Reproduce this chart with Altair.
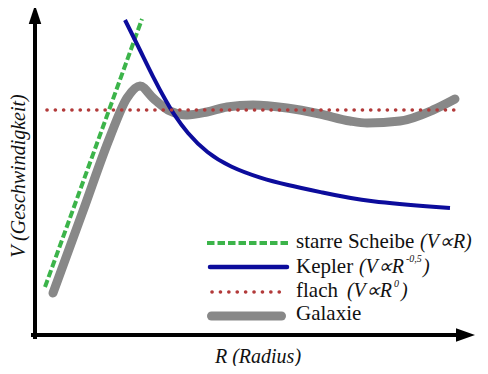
import altair as alt
import pandas as pd

# (R = radius, V = velocity; arbitrary units)
disk_R = [10, 107]
disk_V = [48, 316]

kepler_R = [90, 105, 118, 132, 138, 152, 172, 195, 225, 252, 285, 332, 415]
kepler_V = [315, 285, 258, 232, 222, 202, 182, 168, 157, 150, 143, 133, 127]

flat_R = [12, 425]
flat_V = [225, 225]

galaxy_R = [18, 48, 75, 92, 105, 118, 135, 152, 172, 192, 218, 252, 285, 315, 332, 365, 398, 420]
galaxy_V = [42, 124, 198, 237, 249, 237, 224, 220, 223, 228, 230, 227, 221, 214, 212, 214, 225, 236]

legend_names = ["starre Scheibe", "Kepler", "flach", "Galaxie"]
legend_italic = ["(V\u221dR)", "(V\u221dR", "(V\u221dR"]
legend_sup = ["-0,5", "0"]

XDOM = [-27, 445]
YDOM = [-31, 327]

def X():
    return alt.X("R:Q", scale=alt.Scale(domain=XDOM), axis=None)

def Y():
    return alt.Y("V:Q", scale=alt.Scale(domain=YDOM), axis=None)

def df(R, V):
    return pd.DataFrame({"R": R, "V": V, "i": list(range(len(R)))})

def enc(ch):
    return ch.encode(x=X(), y=Y(), order="i:Q")

GREEN = "#3cb44a"
BLUE = "#0c0c9c"
RED = "#b23a3a"
GRAY = "#888888"
INK = "#111111"
FONT = "'Liberation Serif', 'Times New Roman', Times, serif"

galaxy = enc(alt.Chart(df(galaxy_R, galaxy_V)).mark_line(
    color=GRAY, strokeWidth=9, strokeCap="round", interpolate="monotone"))
disk = enc(alt.Chart(df(disk_R, disk_V)).mark_line(
    color=GREEN, strokeWidth=4, strokeDash=[7.5, 3]))
kepler = enc(alt.Chart(df(kepler_R, kepler_V)).mark_line(
    color=BLUE, strokeWidth=4, interpolate="basis"))
flat = enc(alt.Chart(df(flat_R, flat_V)).mark_line(
    color=RED, strokeWidth=3.6, strokeCap="round", strokeDash=[0.1, 8.2]))

# legend symbols
lg = enc(alt.Chart(df([176.5, 246.5], [19, 19])).mark_line(color=GRAY, strokeWidth=9, strokeCap="round"))
lgr = enc(alt.Chart(df([172, 253], [92, 92])).mark_line(color=GREEN, strokeWidth=4, strokeDash=[7.5, 3]))
lb = enc(alt.Chart(df([175, 252], [68, 68])).mark_line(color=BLUE, strokeWidth=4.5, strokeCap="round"))
lr = enc(alt.Chart(df([177, 252], [43, 43])).mark_line(color=RED, strokeWidth=3.6, strokeCap="round", strokeDash=[0.1, 8.3]))

# legend texts
names = pd.DataFrame({"R": [261] * 4, "V": [87, 62, 38, 15], "t": legend_names})
ital_l = pd.DataFrame({"R": [385], "V": [87], "t": legend_italic[:1]})
ital_r = pd.DataFrame({"R": [369, 357], "V": [62, 38], "t": legend_italic[1:]})
sups = pd.DataFrame({"R": [371, 359], "V": [73, 48], "t": legend_sup})
close = pd.DataFrame({"R": [388, 366], "V": [62, 38], "t": [")", ")"]})

def txt(d, **kw):
    base = dict(font=FONT, color=INK, align="left", baseline="alphabetic")
    base.update(kw)
    return alt.Chart(d).mark_text(**base).encode(x=X(), y=Y(), text="t:N")

t_names = txt(names, fontSize=21)
t_ital_l = txt(ital_l, fontSize=20, fontStyle="italic")
t_ital_r = txt(ital_r, fontSize=20, fontStyle="italic", align="right")
t_sup = txt(sups, fontSize=10, fontStyle="italic")
t_close = txt(close, fontSize=20, fontStyle="italic")

# axes with arrows
axis_y = enc(alt.Chart(df([0, 0], [-2, 312])).mark_line(color="black", strokeWidth=4, strokeCap="square"))
axis_x = enc(alt.Chart(df([-2, 422], [0, 0])).mark_line(color="black", strokeWidth=4, strokeCap="square"))
arrow_up = alt.Chart(pd.DataFrame({"R": [0], "V": [320.5]})).mark_point(
    shape="M0,-1L0.66,1L-0.66,1Z", size=361, filled=True, color="black", opacity=1).encode(x=X(), y=Y())
arrow_right = alt.Chart(pd.DataFrame({"R": [430.5], "V": [0]})).mark_point(
    shape="M1,0L-1,-0.7L-1,0.7Z", size=361, filled=True, color="black", opacity=1).encode(x=X(), y=Y())

ytitle = alt.Chart(pd.DataFrame({"R": [-16], "V": [159], "t": ["V (Geschwindigkeit)"]})).mark_text(
    font=FONT, fontSize=20, fontStyle="italic", color=INK, angle=270, align="center", baseline="middle"
).encode(x=X(), y=Y(), text="t:N")
xtitle = alt.Chart(pd.DataFrame({"R": [223], "V": [-22], "t": ["R (Radius)"]})).mark_text(
    font=FONT, fontSize=20, fontStyle="italic", color=INK, align="center", baseline="middle"
).encode(x=X(), y=Y(), text="t:N")

chart = alt.layer(
    galaxy, disk, kepler, flat,
    lgr, lb, lr, lg,
    t_names, t_ital_l, t_ital_r, t_sup, t_close,
    axis_y, axis_x, arrow_up, arrow_right, ytitle, xtitle,
).properties(
    width=472, height=358, padding=0, autosize=alt.AutoSizeParams(type="none"),
    background="white",
).configure_view(stroke=None)

chart.save("out.html", embed_options={"renderer": "svg", "actions": False})
